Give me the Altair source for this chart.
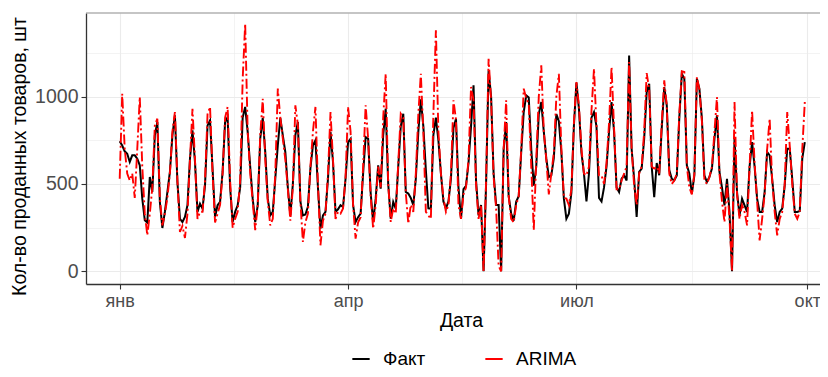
import altair as alt
import pandas as pd

# ---- data (daily values, 2020-01-01 .. 2020-09-30) ----
start_date = "2020-01-01"
series_names = ["Факт", "ARIMA"]
series_colors = ["#000000", "#FF0000"]

fact = [
    745, 720, 687, 673, 626, 664, 664, 645, 607, 416, 292, 279, 540, 454,
    778, 855, 397, 248, 340, 454, 569, 778, 893, 511, 301, 282, 311, 378,
    645, 807, 626, 340, 387, 359, 492, 835, 864, 588, 311, 378, 397, 569,
    855, 883, 480, 282, 340, 378, 480, 880, 941, 798, 600, 416, 282, 378,
    760, 878, 683, 416, 320, 340, 530, 721, 878, 778, 683, 480, 320, 500,
    780, 855, 400, 320, 325, 370, 590, 721, 750, 480, 244, 320, 340, 530,
    798, 626, 340, 355, 378, 368, 530, 740, 759, 380, 282, 310, 330, 560,
    769, 759, 450, 282, 416, 607, 473, 780, 931, 500, 301, 397, 359, 600,
    830, 902, 454, 445, 420, 378, 530, 800, 985, 830, 580, 360, 359, 780,
    880, 750, 560, 400, 360, 400, 530, 820, 874, 480, 301, 470, 490, 620,
    830, 1065, 520, 320, 380, 0, 500, 1150, 1000, 560, 380, 380, 0, 700,
    855, 430, 330, 290, 400, 430, 683, 912, 1007, 995, 700, 490, 600, 900,
    969, 800, 645, 540, 549, 650, 900, 860, 683, 416, 301, 330, 450, 835,
    1080, 931, 680, 560, 400, 560, 880, 912, 830, 420, 400, 480, 600, 800,
    969, 800, 480, 454, 530, 549, 520, 1236, 700, 530, 311, 569, 588, 759,
    1026, 1074, 600, 425, 620, 550, 820, 1055, 950, 580, 530, 521, 549, 880,
    1131, 1103, 607, 560, 445, 549, 1103, 1046, 874, 549, 511, 540, 588, 759,
    893, 569, 480, 378, 530, 340, 0, 760, 454, 320, 416, 378, 340, 600,
    740, 600, 416, 340, 340, 454, 683, 664, 530, 378, 282, 340, 359, 492,
    702, 702, 530, 340, 340, 345, 645, 740,
]

arima = [
    530, 1017, 700, 560, 520, 560, 420, 700, 998, 600, 330, 206, 330, 480,
    835, 874, 420, 263, 330, 420, 560, 800, 912, 520, 225, 260, 191, 330,
    640, 931, 640, 300, 340, 340, 520, 900, 941, 560, 280, 330, 380, 560,
    880, 941, 520, 250, 300, 340, 520, 1100, 1418, 800, 560, 400, 235, 380,
    780, 988, 640, 400, 263, 300, 560, 1046, 880, 760, 640, 470, 290, 480,
    950, 840, 400, 168, 280, 330, 600, 800, 941, 500, 149, 290, 330, 560,
    912, 640, 300, 340, 330, 360, 540, 941, 800, 380, 187, 280, 310, 600,
    950, 760, 430, 244, 380, 600, 480, 880, 1131, 500, 282, 360, 330, 620,
    902, 880, 450, 273, 380, 340, 560, 900, 1131, 800, 340, 320, 300, 900,
    1380, 800, 560, 420, 340, 380, 560, 979, 870, 378, 300, 440, 480, 640,
    1055, 980, 500, 300, 380, 0, 520, 1217, 980, 540, 360, 30, 0, 700,
    979, 430, 300, 280, 380, 430, 700, 1046, 990, 960, 600, 235, 640, 1000,
    1179, 800, 640, 440, 560, 680, 1000, 1131, 700, 420, 416, 379, 470, 850,
    1084, 950, 700, 560, 549, 600, 920, 1160, 830, 549, 549, 500, 620, 850,
    1170, 820, 470, 470, 520, 560, 600, 1198, 700, 490, 380, 560, 600, 800,
    1135, 1040, 600, 588, 600, 560, 850, 1093, 950, 560, 500, 520, 560, 900,
    1145, 1141, 600, 480, 440, 560, 1112, 1040, 860, 520, 500, 540, 600, 800,
    998, 560, 400, 282, 500, 300, 0, 969, 440, 300, 380, 340, 263, 600,
    921, 620, 400, 177, 300, 440, 700, 874, 520, 340, 206, 300, 340, 500,
    912, 720, 500, 330, 301, 340, 700, 969,
]

month_labels = ["янв", "фев", "мар", "апр", "май", "июн",
                "июл", "авг", "сен", "окт", "ноя", "дек"]
# x axis breaks: (year, month, day, hour) -- majors on the 1st, minors mid-way
x_breaks = [(2020, 1, 1, 0), (2020, 2, 15, 12), (2020, 4, 1, 0), (2020, 5, 16, 12),
            (2020, 7, 1, 0), (2020, 8, 16, 0), (2020, 10, 1, 0)]
x_limits = [(2019, 12, 18, 13, 41), (2020, 10, 6, 1, 30)]
y_breaks = [0, 250, 500, 750, 1000, 1250]
y_limits = [-72.7, 1479]

# ---- build tables ----
dates = pd.date_range(start_date, periods=len(fact), freq="D")
df_fact = pd.DataFrame({"date": dates, "value": fact, "series": series_names[0]})
df_arima = pd.DataFrame({"date": dates, "value": arima, "series": series_names[1]})
df_border = pd.DataFrame({"border": ["top"]})

FONT = "Liberation Sans"
months_js = "[" + ",".join("'%s'" % m for m in month_labels) + "]"

x_values = [alt.DateTime(year=y, month=m, date=d, hours=h) for (y, m, d, h) in x_breaks]
x_domain = [alt.DateTime(year=y, month=m, date=d, hours=h, minutes=mi) for (y, m, d, h, mi) in x_limits]

major_x = "date(datum.value) == 1"
major_y = "datum.value % 500 == 0"

x_axis = alt.Axis(
    values=x_values,
    labelExpr=f"{major_x} ? {months_js}[month(datum.value)] : ''",
    labelFlush=False,
    labelOverlap=False,
    grid=True,
    gridColor="#EBEBEB",
    gridWidth={"condition": {"test": major_x, "value": 1.1}, "value": 0.6},
    tickOpacity={"condition": {"test": major_x, "value": 1}, "value": 0},
    tickSize=5,
    tickWidth=1.1,
    tickColor="#333333",
    domainColor="#333333",
    domainWidth=1.3,
    labelColor="#4D4D4D",
    labelFont=FONT,
    labelFontSize=18,
    labelPadding=3,
    title="Дата",
    titleFont=FONT,
    titleFontSize=19.5,
    titleFontWeight="normal",
    titleColor="#000000",
    titlePadding=1,
    titleX=375,
)

y_axis = alt.Axis(
    values=y_breaks,
    format="d",
    labelExpr=f"{major_y} ? datum.label : ''",
    labelOverlap=False,
    grid=True,
    gridColor="#EBEBEB",
    gridWidth={"condition": {"test": major_y, "value": 1.1}, "value": 0.6},
    tickOpacity={"condition": {"test": major_y, "value": 1}, "value": 0},
    tickSize=5,
    tickWidth=1.1,
    tickColor="#333333",
    domainColor="#333333",
    domainWidth=1.3,
    labelColor="#4D4D4D",
    labelFont=FONT,
    labelFontSize=19.5,
    labelPadding=3,
    title="Кол-во проданных товаров, шт",
    titleFont=FONT,
    titleFontSize=19.5,
    titleFontWeight="normal",
    titleColor="#000000",
    titleX=-57,
    titleY=143,
)

x_enc = alt.X("date:T", scale=alt.Scale(domain=x_domain, nice=False), axis=x_axis)
y_enc = alt.Y("value:Q", scale=alt.Scale(domain=y_limits, nice=False, zero=False), axis=y_axis)
color_enc = alt.Color(
    "series:N",
    scale=alt.Scale(domain=series_names, range=series_colors),
    legend=alt.Legend(
        title=None,
        orient="none",
        direction="horizontal",
        legendX=265,
        legendY=336,
        symbolType="stroke",
        symbolSize=300,
        symbolStrokeWidth=2,
        labelFont=FONT,
        labelFontSize=19,
        labelColor="#000000",
        labelOffset=12,
        columnPadding=55,
    ),
)

fact_layer = alt.Chart(df_fact).mark_line(strokeWidth=2.0).encode(
    x=x_enc, y=y_enc, color=color_enc
)
arima_layer = alt.Chart(df_arima).mark_line(strokeWidth=1.9, strokeDash=[10, 3, 2, 3]).encode(
    x=x_enc, y=y_enc, color=color_enc
)
top_border = alt.Chart(df_border).mark_rule(color="#8C8C8C", strokeWidth=1.1).encode(
    y=alt.value(0)
)

chart = (
    alt.layer(top_border, fact_layer, arima_layer)
    .properties(
        width=734,
        height=271,
        autosize=alt.AutoSizeParams(type="none"),
        padding={"left": 78, "top": 5, "right": 0, "bottom": 85},
        background="#FFFFFF",
    )
    .configure_view(stroke=None)
)

chart.save("out.html", embed_options={"renderer": "svg", "actions": False})
